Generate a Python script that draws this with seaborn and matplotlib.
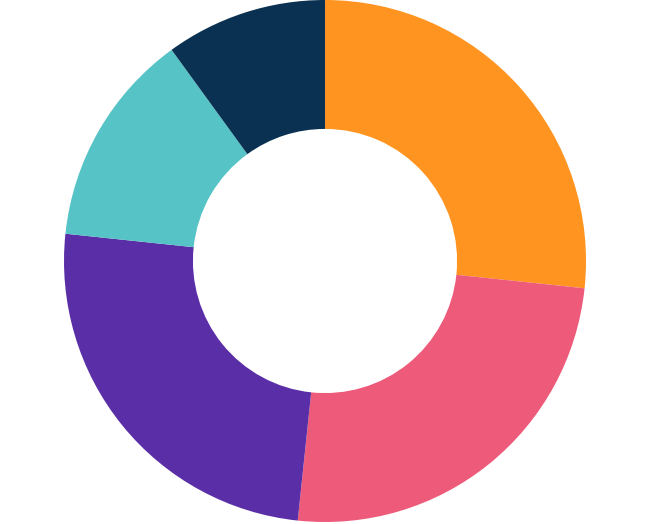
import matplotlib
matplotlib.use("Agg")
import matplotlib.pyplot as plt
import seaborn as sns

# ==========================================================
#  DATA
# ==========================================================
labels = ["A", "B", "C", "D", "E"]
values = [8, 7.5, 7.5, 4, 3]
colors = ["#FF9421", "#EE5A7A", "#5A2EA6", "#56C3C6", "#0A3152"]

# ==========================================================
#  PLOT
# ==========================================================
sns.set_theme(style="white")
palette = sns.color_palette(colors)

fig = plt.figure(figsize=(6.51, 5.24), dpi=100)
ax = fig.add_axes([0, 0, 1, 1])

ax.pie(
    values,
    colors=palette,
    startangle=90,
    counterclock=False,
    radius=1.0,
    wedgeprops=dict(width=0.494, linewidth=0, antialiased=True),
)

# pixel geometry: centre at (325, 261), outer radius 261 px
r_px = 261.0
ax.set_xlim(-325 / r_px, (651 - 325) / r_px)
ax.set_ylim(-(524 - 261) / r_px, 261 / r_px)
ax.set_aspect("equal")
ax.axis("off")

fig.savefig("out.png", dpi=100)
plt.close(fig)
